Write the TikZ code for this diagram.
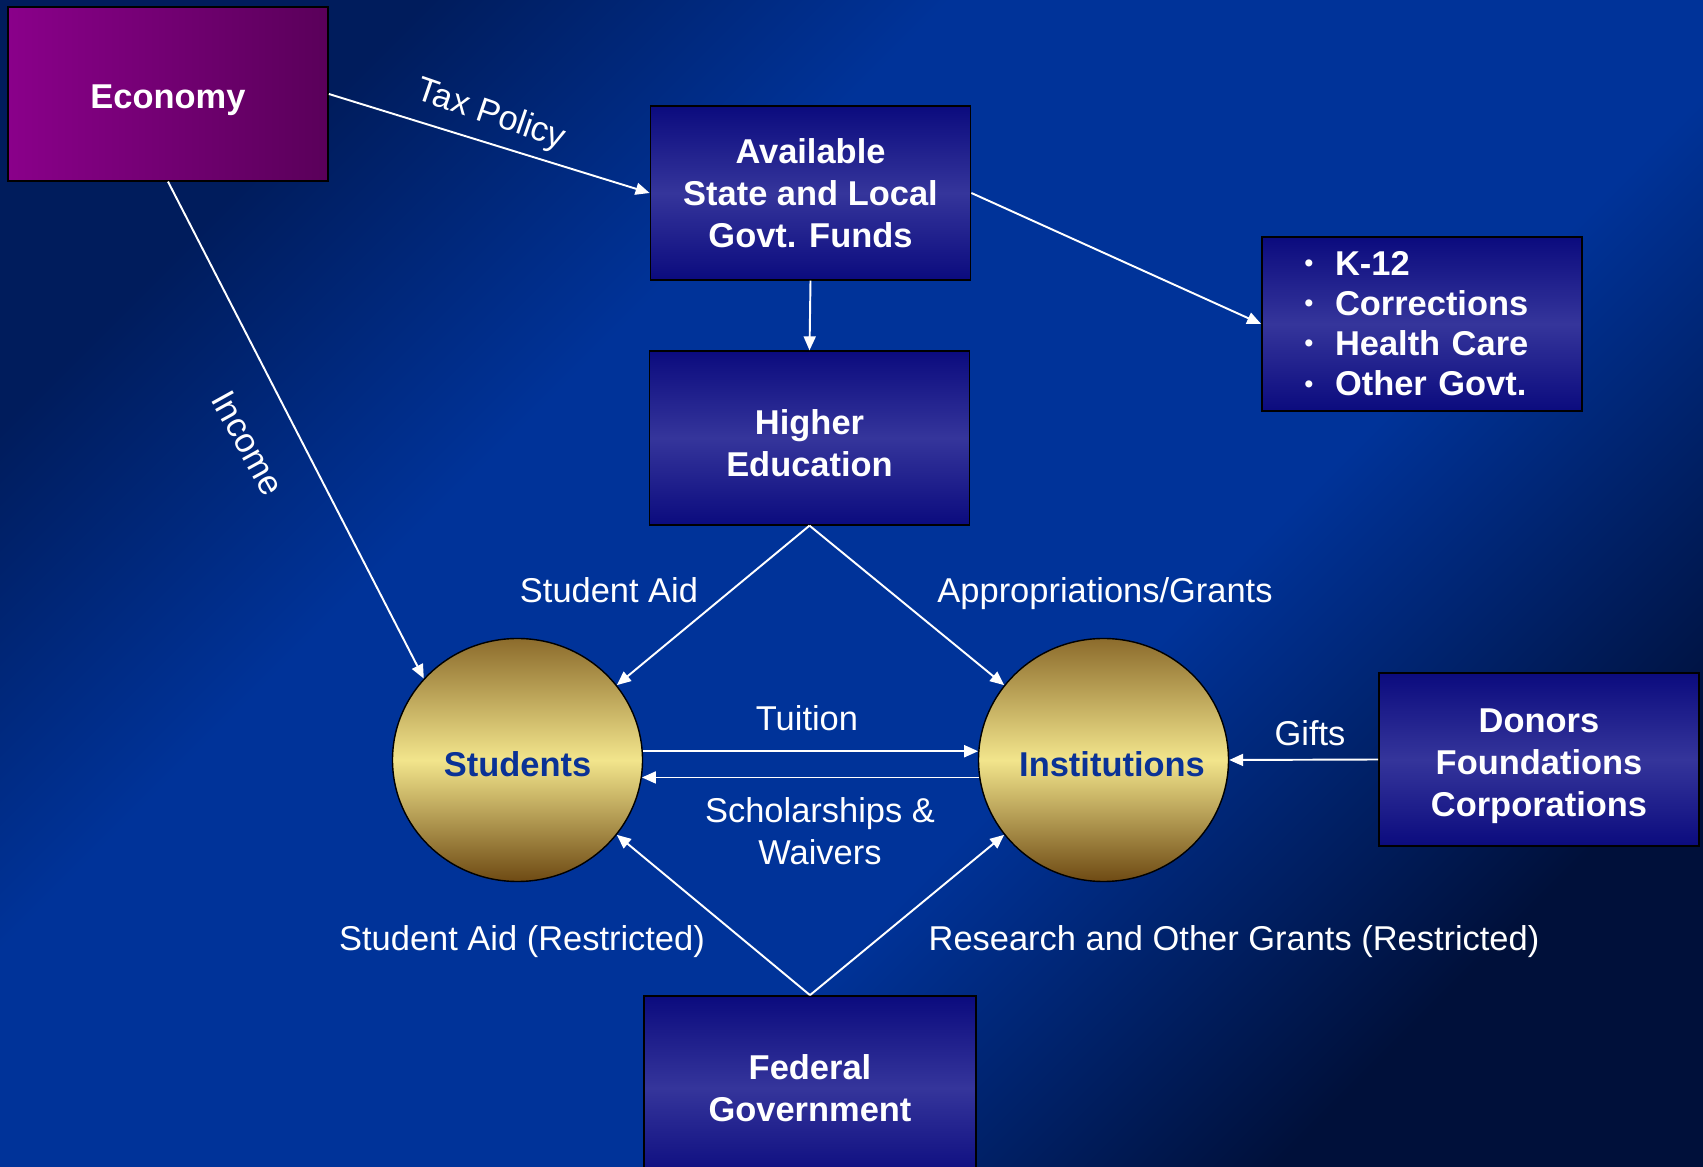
\documentclass[tikz,border=0pt]{standalone}
\usepackage{fontspec}
\setmainfont{Liberation Sans}
\usetikzlibrary{arrows.meta, positioning, shapes.geometric}
\definecolor{bgnavy}{HTML}{001C5C}
\definecolor{bgblue}{HTML}{003399}
\definecolor{bgdark}{HTML}{00103A}
\definecolor{boxedge}{HTML}{0B0B7E}
\definecolor{boxmid}{HTML}{35359B}
\definecolor{plumlight}{HTML}{8A008A}
\definecolor{plumdark}{HTML}{5A005A}
\definecolor{goldtop}{HTML}{8C6B2C}
\definecolor{goldmid}{HTML}{F2E58C}
\definecolor{goldbot}{HTML}{6E4A14}
\definecolor{ballblue}{HTML}{0A3296}
\pgfdeclarehorizontalshading{bgsweep}{100bp}{color(0bp)=(bgdark); color(25bp)=(bgdark); color(41bp)=(bgblue); color(62bp)=(bgblue); color(75bp)=(bgnavy); color(100bp)=(bgnavy)}
\newcommand{\boxfont}{\fontsize{19.6}{23.8}\selectfont\bfseries}
\newcommand{\listfont}{\fontsize{19.6}{22.8}\selectfont\bfseries}
\newcommand{\flowfont}{\fontsize{19.6}{23.8}\selectfont}
\newcommand{\listdot}{\makebox[0.61cm][l]{\fontsize{14}{14}\selectfont\raisebox{0.3ex}{\textbullet}}}
\tikzset{
    box/.style={rectangle, draw=black, line width=1pt, minimum width=6.4cm, minimum height=3.47cm, align=center, font=\boxfont, text=white, text depth=0pt},
    navybox/.style={box, top color=boxedge, bottom color=boxedge, middle color=boxmid},
    plumbox/.style={box, left color=plumlight, right color=plumdark},
    goldball/.style={ellipse, draw=black, line width=0.8pt, inner sep=0pt, minimum width=5cm, minimum height=4.86cm, top color=goldtop, bottom color=goldbot, middle color=goldmid, font=\boxfont, text=ballblue, text height=19pt, text depth=0pt},
    arrow/.style={-{Triangle[length=2.8mm, width=2.4mm]}, line width=1.1pt, draw=white},
    flowlabel/.style={font=\flowfont, text=white, align=center, text depth=0pt}
}
\begin{document}
\begin{tikzpicture}
    \shade[shading=bgsweep, shading angle=135] (0,0) rectangle (34.06,23.32);
    \useasboundingbox (0,0) rectangle (34.06,23.32);
    \node[plumbox, text height=16pt] (economy) at (3.36,21.44) {Economy};
    \node[navybox] (funds) at (16.21,19.46) {Available\\State and Local\\Govt. Funds};
    \node[navybox] (higher) at (16.19,14.56) {\rule{0pt}{19.6pt}Higher\\Education};
    \node[navybox, text width=4.7cm, align=left, font=\listfont, text depth=] (othergovt) at (28.44,16.84) {\listdot K-12\\\listdot Corrections\\\listdot Health Care\\\listdot Other Govt.};
    \node[navybox] (donors) at (30.78,8.13) {\rule{0pt}{17pt}Donors\\Foundations\\Corporations};
    \node[navybox, minimum width=6.64cm, minimum height=3.68cm] (federal) at (16.2,1.56) {Federal\\Government};
    \node[goldball] (students) at (10.35,8.12) {\makebox[0pt]{Students}};
    \node[goldball] (institutions) at (22.07,8.12) {\makebox[0pt]{\hspace{0.34cm}Institutions}};
    \draw[arrow] (economy.east) -- (funds.west);
    \draw[arrow] (economy.south) -- (students.139);
    \draw[arrow] (funds.south) -- (higher.north);
    \draw[arrow] (funds.east) -- (othergovt.west);
    \draw[arrow] (higher.south) -- (students.37);
    \draw[arrow] (higher.south) -- (institutions.143);
    \draw[arrow] (students.4) -- (institutions.176);
    \draw[arrow] (institutions.-172) -- (students.-8);
    \draw[arrow] (federal.north) -- (students.-37);
    \draw[arrow] (federal.north) -- (institutions.-143);
    \draw[arrow] (donors.west) -- (institutions.east);
    \node[flowlabel, rotate=-19] (taxlabel) at (9.84,21.08) {Tax Policy};
    \node[flowlabel, rotate=-61] (incomelabel) at (4.96,14.46) {Income};
    \node[flowlabel] (aidlabel) at (12.18,11.52) {Student Aid};
    \node[flowlabel] (approplabel) at (22.1,11.52) {Appropriations/Grants};
    \node[flowlabel] (tuitionlabel) at (16.14,8.96) {Tuition};
    \node[flowlabel] (waiverlabel) at (16.4,6.7) {Scholarships \&\\Waivers};
    \node[flowlabel] (giftlabel) at (26.2,8.66) {Gifts};
    \node[flowlabel] (restrictlabel) at (10.44,4.56) {Student Aid (Restricted)};
    \node[flowlabel] (researchlabel) at (24.68,4.56) {Research and Other Grants (Restricted)};
\end{tikzpicture}
\end{document}
